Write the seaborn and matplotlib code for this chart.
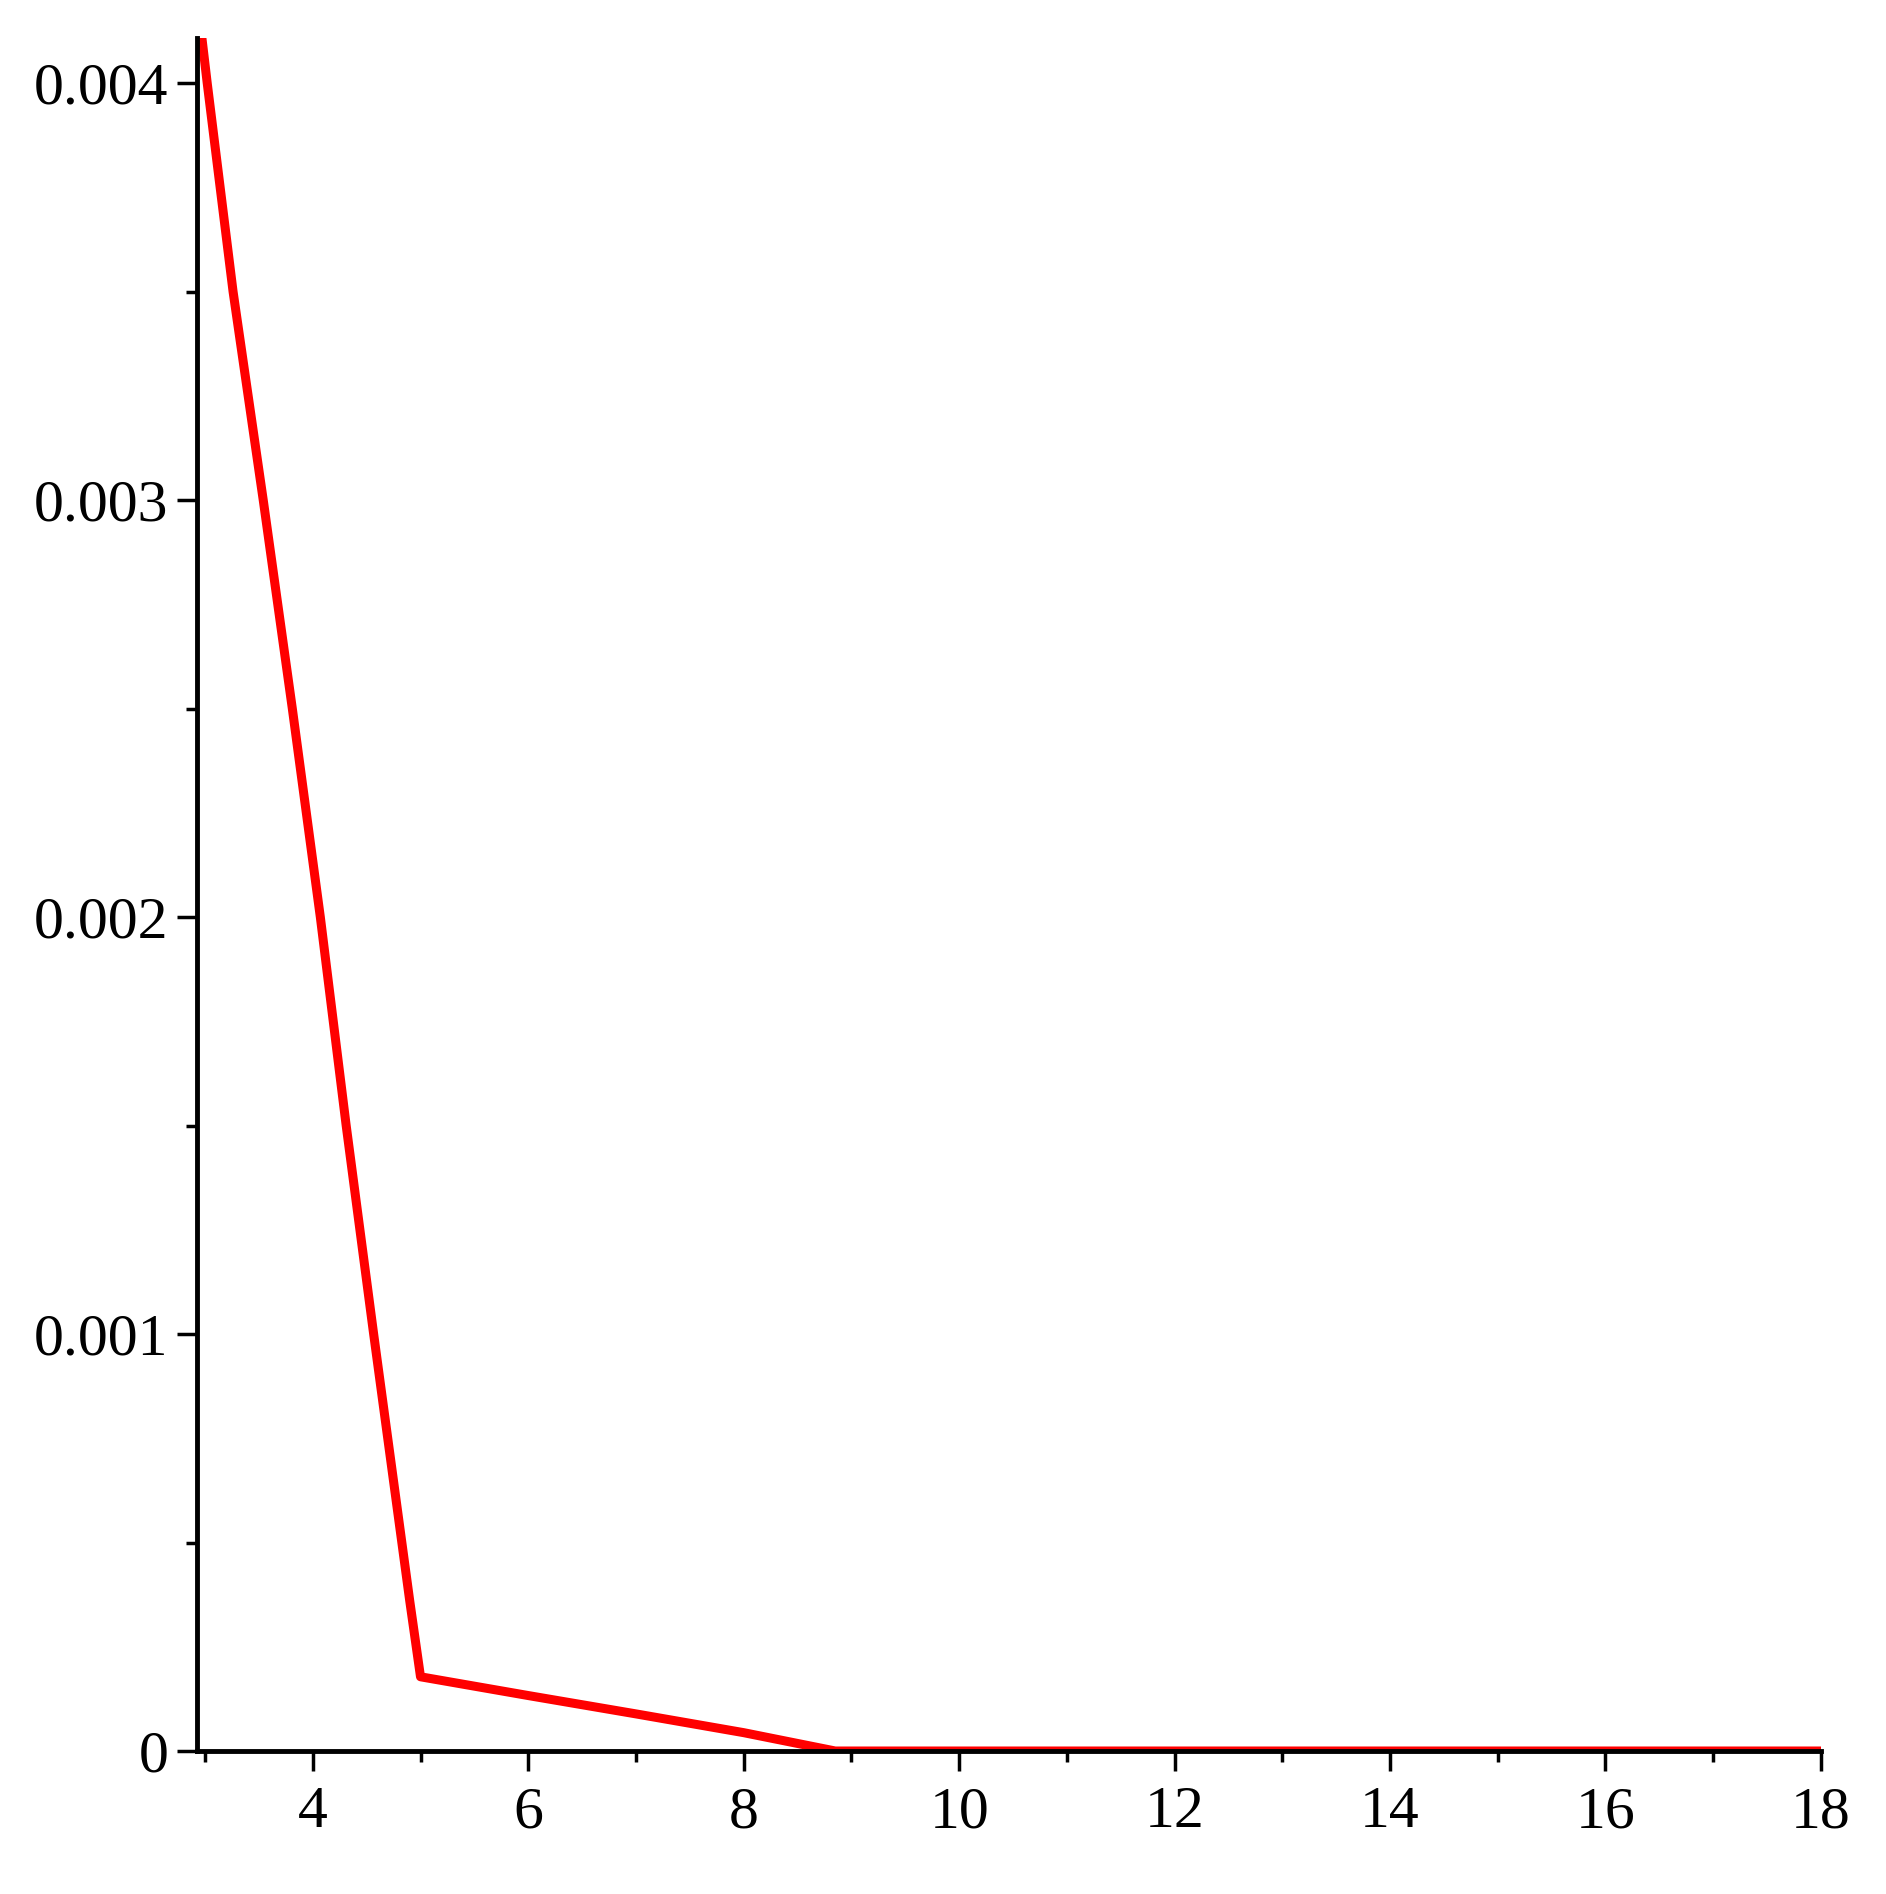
import matplotlib
matplotlib.use("Agg")
import matplotlib.pyplot as plt
import seaborn as sns
import pandas as pd

# curve (x, density)
x_vals = [2.97, 3.02, 3.26, 3.54, 3.81, 4.07, 4.31, 4.565, 4.90, 5.00,
          6.00, 7.00, 8.00, 8.85, 18.0]
y_vals = [0.00411, 0.00400, 0.00350, 0.00300, 0.00250, 0.00200, 0.00150, 0.00100, 0.00036, 0.000178,
          0.000133, 0.000089, 0.000044, 0.0, 0.0]

x_ticks = [4, 6, 8, 10, 12, 14, 16, 18]
x_tick_labels = ["4", "6", "8", "10", "12", "14", "16", "18"]
x_minor = [3, 5, 7, 9, 11, 13, 15, 17]
y_ticks = [0, 0.001, 0.002, 0.003, 0.004]
y_tick_labels = ["0", "0.001", "0.002", "0.003", "0.004"]
y_minor = [0.0005, 0.0015, 0.0025, 0.0035]

df = pd.DataFrame({"x": x_vals, "y": y_vals})

sns.set_style("ticks")
plt.rcParams["font.family"] = ["Liberation Serif", "DejaVu Serif"]

fig = plt.figure(figsize=(18.86, 18.94), dpi=100)
ax = fig.add_axes([0.1045, 0.0755, 0.861, 0.9044])

sns.lineplot(data=df, x="x", y="y", color="red", linewidth=6.5, estimator=None, sort=False, ax=ax)

ax.set_xlim(2.926, 18)
ax.set_ylim(0, 0.004108)

ax.set_xticks(x_ticks)
ax.set_xticklabels(x_tick_labels)
ax.set_xticks(x_minor, minor=True)
ax.set_yticks(y_ticks)
ax.set_yticklabels(y_tick_labels)
ax.set_yticks(y_minor, minor=True)

ax.set_xlabel("")
ax.set_ylabel("")

for side in ["top", "right"]:
    ax.spines[side].set_visible(False)
for side in ["left", "bottom"]:
    ax.spines[side].set_linewidth(3.5)
    ax.spines[side].set_color("black")

ax.tick_params(which="major", direction="out", length=14.5, width=2.5, colors="black", labelsize=43)
ax.tick_params(which="minor", direction="out", length=8, width=2.5, colors="black")
ax.tick_params(axis="x", which="major", pad=11)
ax.tick_params(axis="y", which="major", pad=6)

fig.savefig("out.png", dpi=100, facecolor="white")
